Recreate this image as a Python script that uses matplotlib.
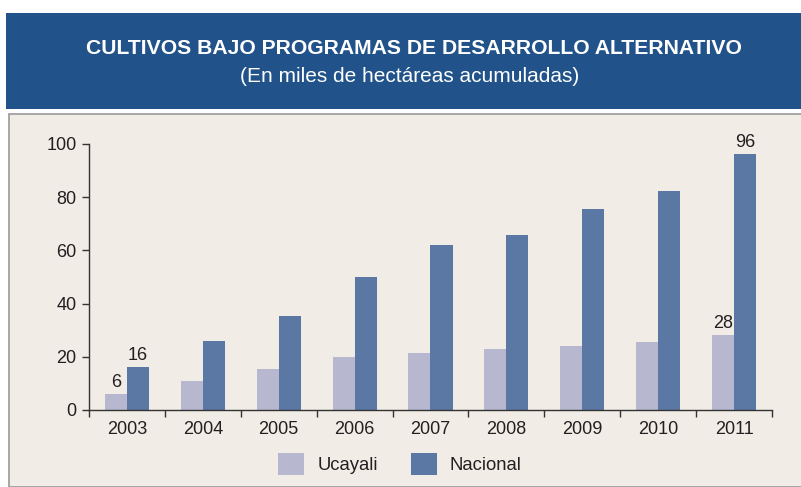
import matplotlib.pyplot as plt
from matplotlib.patches import Rectangle
import numpy as np

plt.rcParams['font.family'] = ['Liberation Sans', 'DejaVu Sans']

years = ['2003', '2004', '2005', '2006', '2007', '2008', '2009', '2010', '2011']
ucayali = [6, 11, 15.5, 20, 21.6, 23, 24, 25.4, 28.3]
nacional = [16.2, 26.1, 35.2, 50, 62, 65.8, 75.6, 82.5, 96.3]
# only first and last year carry a value label
labelled = ['2003', '2011']

c_uca = '#b7b7cf'
c_nac = '#5b78a5'
bg = '#f1ede6'
dark = '#231f20'

fig = plt.figure(figsize=(8.01, 4.87), dpi=100)
fig.patch.set_facecolor('white')

# header box and panel (behind the axes)
fig.patches.append(Rectangle((6 / 801, 1 - 109 / 487), 795 / 801, 96 / 487,
                             transform=fig.transFigure, facecolor='#21538a',
                             edgecolor='none', zorder=-10))
fig.patches.append(Rectangle((9 / 801, 0), 800 / 801, 1 - 114 / 487,
                             transform=fig.transFigure, facecolor=bg,
                             edgecolor='#9a9a9a', linewidth=1.2, zorder=-10))

fig.text(414 / 801, 1 - 48 / 487, 'CULTIVOS BAJO PROGRAMAS DE DESARROLLO ALTERNATIVO',
         color='white', fontsize=15.2, fontweight='bold', ha='center', va='center')
fig.text(410 / 801, 1 - 76 / 487, '(En miles de hectáreas acumuladas)',
         color='white', fontsize=15, ha='center', va='center')

ax = fig.add_axes([89 / 801, 1 - 410 / 487, 683 / 801, 266 / 487])
ax.set_facecolor('none')

x = np.arange(len(years))
w = 0.29
b1 = ax.bar(x - w / 2, ucayali, w, color=c_uca, label='Ucayali')
b2 = ax.bar(x + w / 2, nacional, w, color=c_nac, label='Nacional')

for i, y in enumerate(years):
    if y in labelled:
        ax.text(x[i] - w / 2, ucayali[i] + 1.2, f'{ucayali[i]:.0f}', ha='center',
                va='bottom', fontsize=13, color=dark)
        ax.text(x[i] + w / 2, nacional[i] + 1.2, f'{nacional[i]:.0f}', ha='center',
                va='bottom', fontsize=13, color=dark, clip_on=False)

ax.set_xlim(-0.5, len(years) - 0.5)
ax.set_ylim(0, 100)
ax.set_yticks(range(0, 101, 20))
ax.set_xticks(x)
ax.set_xticklabels(years)
ax.set_xticks(np.arange(-0.5, len(years)), minor=True)
ax.tick_params(axis='x', which='major', length=0, pad=8, labelsize=13, labelcolor=dark)
ax.tick_params(axis='x', which='minor', length=5, width=1, color='#333333', direction='out')
ax.tick_params(axis='y', length=5, width=1, color='#333333', labelsize=13,
               labelcolor=dark, pad=4)
for s in ['top', 'right']:
    ax.spines[s].set_visible(False)
for s in ['left', 'bottom']:
    ax.spines[s].set_color('#333333')
    ax.spines[s].set_linewidth(1)

leg = fig.legend(handles=[b1, b2], loc='center', bbox_to_anchor=(400 / 801, 1 - 464 / 487),
                 ncol=2, frameon=False, fontsize=13.3, handlelength=1.4, handleheight=1.4,
                 columnspacing=1.8, handletextpad=0.7)
for t in leg.get_texts():
    t.set_color(dark)

fig.savefig('out.png', dpi=100, facecolor=fig.get_facecolor())
